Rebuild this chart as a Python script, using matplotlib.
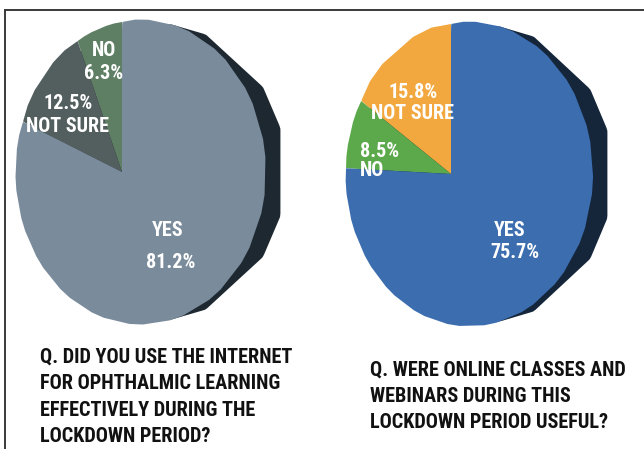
import numpy as np
import matplotlib
matplotlib.use("Agg")
import matplotlib.pyplot as plt
from matplotlib import font_manager
from matplotlib.transforms import Transform
from matplotlib.patches import Ellipse
from matplotlib.path import Path

# ---- data ----
left_labels = ["NO", "NOT SURE", "YES"]
left_values = [6.3, 12.5, 81.2]
left_colors = ["#5f7f64", "#535e5e", "#7a8b9c"]

right_labels = ["NOT SURE", "NO", "YES"]
right_values = [15.8, 8.5, 75.7]
right_colors = ["#f2a83f", "#5ca94b", "#3b6daf"]

left_question = "Q. DID YOU USE THE INTERNET\nFOR OPHTHALMIC LEARNING\nEFFECTIVELY DURING THE\nLOCKDOWN PERIOD?"
right_question = "Q. WERE ONLINE CLASSES AND\nWEBINARS DURING THIS\nLOCKDOWN PERIOD USEFUL?"

# pick a condensed family if one is installed
available = {f.name for f in font_manager.fontManager.ttflist}
condensed = None
for cand in ["Liberation Sans Narrow", "Roboto Condensed", "DejaVu Sans Condensed",
             "Open Sans Condensed", "Noto Sans Condensed", "Arial Narrow"]:
    if cand in available:
        condensed = cand
        break
if condensed:
    FONT = [condensed, "DejaVu Sans"]
    SCALE = 1.0
else:
    FONT = ["Liberation Sans", "DejaVu Sans"]
    SCALE = 0.8


class Perspective(Transform):
    """Maps unit-disk coords to pixel coords with a simple perspective tilt."""
    input_dims = 2
    output_dims = 2
    is_separable = False

    def __init__(self, cx, cy, a, b, c):
        super().__init__()
        self.cx, self.cy, self.a, self.b, self.c = cx, cy, a, b, c

    def transform_non_affine(self, values):
        v = np.asarray(values, dtype=float)
        x, y = v[:, 0], v[:, 1]
        w = 1 + self.b * x
        return np.column_stack([self.cx + self.a * x / w, self.cy - self.c * y / w])

    def transform_path_non_affine(self, path):
        p = path.interpolated(20)
        return Path(self.transform_non_affine(p.vertices), p.codes)

    def inverted(self):
        raise NotImplementedError


fig = plt.figure(figsize=(6.44, 4.49), dpi=100)
ax = fig.add_axes([0, 0, 1, 1])


def draw_pie(values, colors, cx, cy, a, b, c, edge_color):
    proj = Perspective(cx, cy, a, b, c)
    edge = Ellipse((0.12, 0), 2 * 0.97, 2 * 0.93, facecolor=edge_color,
                   edgecolor="none", transform=proj + ax.transData, zorder=1)
    ax.add_patch(edge)
    wedges, _ = ax.pie(values, colors=colors, startangle=90, counterclock=True,
                       radius=1.0, center=(0, 0),
                       wedgeprops=dict(linewidth=0, edgecolor="none"))
    for w in wedges:
        w.set_transform(proj + ax.transData)
        w.set_zorder(2)


draw_pie(left_values, left_colors, 122, 172, 121.8, -0.1486, 150, "#1e2831")
draw_pie(right_values, right_colors, 451, 174, 120.5, -0.147, 150, "#15253a")

ax.set_xlim(0, 644)
ax.set_ylim(449, 0)
ax.set_aspect("auto")
ax.axis("off")

# border lines
ax.plot([5, 644], [10, 10], color="#3a3a3a", lw=1.4, zorder=5)
ax.plot([5, 5], [10, 449], color="#3a3a3a", lw=1.4, zorder=5)

fs = 14.5 * SCALE
tk = dict(color="white", fontweight="bold", family=FONT, fontsize=fs, zorder=6)
# left pie labels
ax.text(104, 62, f"{left_labels[0]}\n{left_values[0]}%", ha="center", va="center",
        linespacing=1.22, **tk)
ax.text(68, 115, f"{left_values[1]}%\n{left_labels[1]}", ha="center", va="center",
        linespacing=1.3, **tk)
ax.text(168, 230, left_labels[2], ha="center", va="center", **tk)
ax.text(171, 262, f"{left_values[2]}%", ha="center", va="center", **tk)
# right pie labels
ax.text(413, 103, f"{right_values[0]}%\n{right_labels[0]}", ha="center", va="center",
        linespacing=1.19, **tk)
ax.text(360, 161, f"{right_values[1]}%\n{right_labels[1]}", ha="left", va="center",
        linespacing=0.94, **tk)
ax.text(510, 230, right_labels[2], ha="center", va="center", **tk)
ax.text(515, 252, f"{right_values[2]}%", ha="center", va="center", **tk)

qk = dict(color="#111111", fontweight="bold", family=FONT, fontsize=14.6 * SCALE,
          linespacing=1.49, ha="left", va="center", zorder=6)
ax.text(40, 397, left_question, **qk)
ax.text(370, 396, right_question, **qk)

fig.savefig("out.png", dpi=100, facecolor="white")
